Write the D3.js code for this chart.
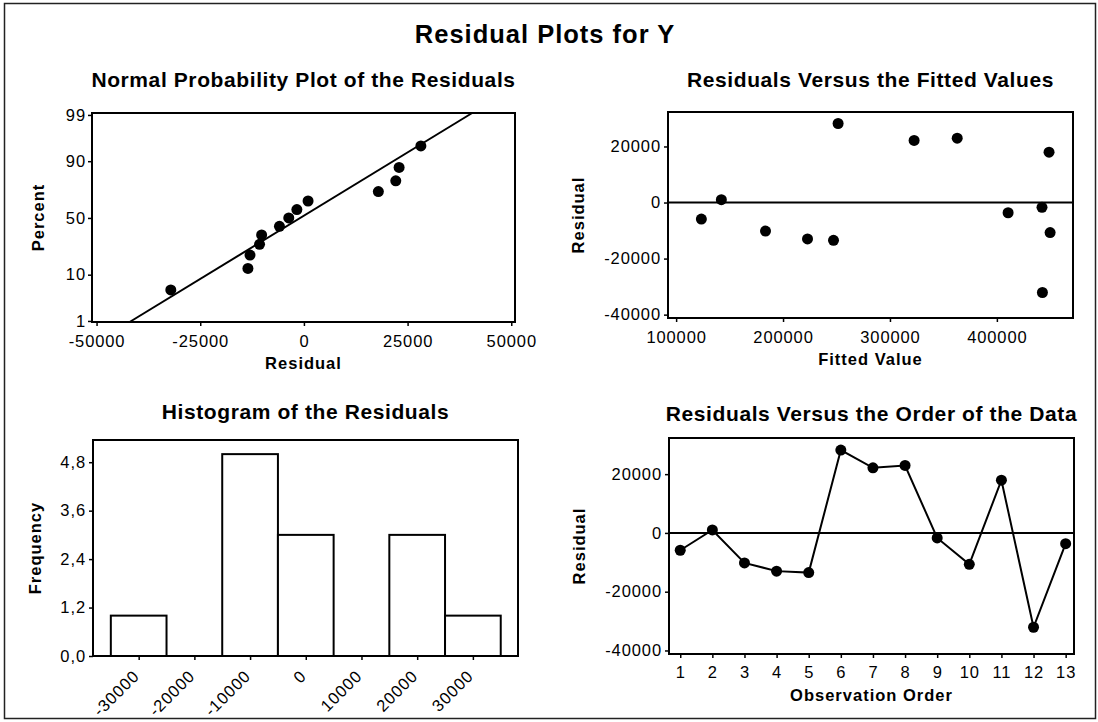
<!DOCTYPE html>
<html>
<head>
<meta charset="utf-8">
<script src="https://cdn.jsdelivr.net/npm/d3@7"></script>
<style>
  html, body { margin: 0; padding: 0; background: #fff; }
  svg { display: block; font-family: "Liberation Sans", Arial, sans-serif; }
</style>
</head>
<body>
<svg id="chart" width="1098" height="722"></svg>
<script>
// ---------------- data ----------------
const observationOrder = [1, 2, 3, 4, 5, 6, 7, 8, 9, 10, 11, 12, 13];
const residuals = [-5900, 1000, -10200, -13000, -13500, 28200, 22150, 22950, -1700, -10700, 17950, -32100, -3650];
const fittedValues = [123600, 142300, 183600, 222900, 247200, 251500, 322600, 362900, 442200, 449800, 448800, 442600, 410500];
// plotting percents of the ordered residuals (normal probability plot)
const normalPercents = [5.2, 12.7, 20.1, 27.6, 35.1, 42.5, 50, 57.5, 64.9, 72.4, 79.9, 87.3, 94.8];
// fitted reference line of the probability plot
const fitLineMean = -900;
const fitLineSd = 17500;
// histogram
const histBinCenters = [-30000, -20000, -10000, 0, 10000, 20000, 30000];
const histCounts = [1, 0, 5, 3, 0, 3, 1];
const histBinWidth = 10000;
// tick labels
const percentTicks = [1, 10, 50, 90, 99];
const npResidualTicks = [-50000, -25000, 0, 25000, 50000];
const residualTicks = [-40000, -20000, 0, 20000];
const fittedTicks = [100000, 200000, 300000, 400000];
const freqTicks = [0, 1.2, 2.4, 3.6, 4.8];

const mainTitle = "Residual Plots for Y";
const panelTitles = ["Normal Probability Plot of the Residuals", "Residuals Versus the Fitted Values",
                     "Histogram of the Residuals", "Residuals Versus the Order of the Data"];

// ---------------- helpers ----------------
function probit(p) { // inverse standard normal CDF (Acklam)
  const a = [-3.969683028665376e+01, 2.209460984245205e+02, -2.759285104469687e+02, 1.383577518672690e+02, -3.066479806614716e+01, 2.506628277459239e+00];
  const b = [-5.447609879822406e+01, 1.615858368580409e+02, -1.556989798598866e+02, 6.680131188771972e+01, -1.328068155288572e+01];
  const c = [-7.784894002430293e-03, -3.223964580411365e-01, -2.400758277161838e+00, -2.549732539343734e+00, 4.374664141464968e+00, 2.938163982698783e+00];
  const d = [7.784695709041462e-03, 3.224671290700398e-01, 2.445134137142996e+00, 3.754408661907416e+00];
  const pl = 0.02425, ph = 1 - pl;
  let q, r;
  if (p < pl) { q = Math.sqrt(-2 * Math.log(p));
    return (((((c[0]*q+c[1])*q+c[2])*q+c[3])*q+c[4])*q+c[5]) / ((((d[0]*q+d[1])*q+d[2])*q+d[3])*q+1); }
  if (p <= ph) { q = p - 0.5; r = q * q;
    return (((((a[0]*r+a[1])*r+a[2])*r+a[3])*r+a[4])*r+a[5])*q / (((((b[0]*r+b[1])*r+b[2])*r+b[3])*r+b[4])*r+1); }
  q = Math.sqrt(-2 * Math.log(1 - p));
  return -(((((c[0]*q+c[1])*q+c[2])*q+c[3])*q+c[4])*q+c[5]) / ((((d[0]*q+d[1])*q+d[2])*q+d[3])*q+1);
}
const fmtInt = d => String(Math.round(d)); // plain hyphen-minus like the reference

const svg = d3.select("#chart");
const INK = "#000";
const TICK_FONT = "16.5px", LS = "0.9px";

svg.append("rect").attr("x", 4.5).attr("y", 3.5).attr("width", 1091).attr("height", 715)
  .attr("fill", "none").attr("stroke", "#222").attr("stroke-width", 1.5);

svg.append("text").attr("x", 545).attr("y", 43).attr("text-anchor", "middle")
  .attr("font-size", "25.5px").attr("font-weight", "bold").attr("letter-spacing", "1px")
  .attr("fill", INK).text(mainTitle);

function styleAxis(g) {
  g.select(".domain").remove();
  g.selectAll(".tick line").attr("stroke", INK).attr("stroke-width", 1.5);
  g.selectAll(".tick text").attr("fill", INK).attr("font-size", TICK_FONT)
    .attr("letter-spacing", LS).attr("font-family", "Liberation Sans, Arial, sans-serif");
}

function makePanel(box, title, titleY, xLabel, xLabelY, yLabel, yLabelX) {
  const g = svg.append("g");
  const cx = (box.x0 + box.x1) / 2, cy = (box.y0 + box.y1) / 2;
  g.append("text").attr("x", cx).attr("y", titleY).attr("text-anchor", "middle")
    .attr("font-size", "21px").attr("font-weight", "bold").attr("letter-spacing", "0.6px")
    .attr("fill", INK).text(title);
  if (xLabel) g.append("text").attr("x", cx).attr("y", xLabelY).attr("text-anchor", "middle")
    .attr("font-size", "16.5px").attr("font-weight", "bold").attr("letter-spacing", "1px")
    .attr("fill", INK).text(xLabel);
  g.append("text").attr("transform", `translate(${yLabelX},${cy}) rotate(-90)`)
    .attr("text-anchor", "middle").attr("font-size", "16.5px").attr("font-weight", "bold")
    .attr("letter-spacing", "1px").attr("fill", INK).text(yLabel);
  return g;
}
function frame(g, box) {
  g.append("rect").attr("x", box.x0).attr("y", box.y0).attr("width", box.x1 - box.x0)
    .attr("height", box.y1 - box.y0).attr("fill", "none").attr("stroke", INK).attr("stroke-width", 2);
}

// ---------------- Panel 1: normal probability plot ----------------
{
  const box = {x0: 92, x1: 515, y0: 113, y1: 322};
  const g = makePanel(box, panelTitles[0], 87, "Residual", 369, "Percent", 44);
  const x = d3.scaleLinear().domain([-51100, 50900]).range([box.x0, box.x1]);
  const y = d3.scaleLinear().domain([-2.35, 2.37]).range([box.y1, box.y0]);
  g.append("g").attr("transform", `translate(0,${box.y1})`)
    .call(d3.axisBottom(x).tickValues(npResidualTicks).tickSize(4).tickPadding(9.5).tickSizeOuter(0).tickFormat(fmtInt))
    .call(styleAxis);
  g.append("g").attr("transform", `translate(${box.x0},0)`)
    .call(d3.axisLeft(y).tickValues(percentTicks.map(p => probit(p / 100))).tickSize(4).tickPadding(2)
      .tickFormat((d, i) => percentTicks[i]))
    .call(styleAxis);
  const zEnds = y.domain();
  g.append("path").datum(zEnds)
    .attr("d", d3.line().x(z => x(fitLineMean + z * fitLineSd)).y(z => y(z)))
    .attr("stroke", INK).attr("stroke-width", 2).attr("fill", "none");
  const sorted = residuals.slice().sort((a, b) => a - b);
  g.selectAll("circle").data(sorted).join("circle")
    .attr("cx", d => x(d)).attr("cy", (d, i) => y(probit(normalPercents[i] / 100)))
    .attr("r", 5.5).attr("fill", INK);
  frame(g, box);
}

// ---------------- Panel 2: residuals vs fitted ----------------
{
  const box = {x0: 668, x1: 1073, y0: 112, y1: 318};
  const g = makePanel(box, panelTitles[1], 87, "Fitted Value", 365, "Residual", 584);
  const x = d3.scaleLinear().domain([92400, 471200]).range([box.x0, box.x1]);
  const y = d3.scaleLinear().domain([-41200, 32300]).range([box.y1, box.y0]);
  g.append("g").attr("transform", `translate(0,${box.y1})`)
    .call(d3.axisBottom(x).tickValues(fittedTicks).tickSize(4).tickPadding(9.5).tickFormat(fmtInt))
    .call(styleAxis);
  g.append("g").attr("transform", `translate(${box.x0},0)`)
    .call(d3.axisLeft(y).tickValues(residualTicks).tickSize(4).tickPadding(3).tickFormat(fmtInt))
    .call(styleAxis);
  g.append("line").attr("x1", box.x0).attr("x2", box.x1).attr("y1", y(0)).attr("y2", y(0))
    .attr("stroke", INK).attr("stroke-width", 2);
  g.selectAll("circle").data(residuals).join("circle")
    .attr("cx", (d, i) => x(fittedValues[i])).attr("cy", d => y(d)).attr("r", 5.5).attr("fill", INK);
  frame(g, box);
}

// ---------------- Panel 3: histogram ----------------
{
  const box = {x0: 93, x1: 518, y0: 440, y1: 656};
  const g = makePanel(box, panelTitles[2], 419, null, 0, "Frequency", 41);
  const x = d3.scaleLinear().domain([-38200, 38100]).range([box.x0, box.x1]);
  const y = d3.scaleLinear().domain([0, 5.35]).range([box.y1, box.y0]);
  const bins = histCounts.map((c, i) => ({center: histBinCenters[i], count: c})).filter(b => b.count > 0);
  g.selectAll("rect.bar").data(bins).join("rect").attr("class", "bar")
    .attr("x", b => x(b.center - histBinWidth / 2))
    .attr("width", b => x(b.center + histBinWidth / 2) - x(b.center - histBinWidth / 2))
    .attr("y", b => y(b.count)).attr("height", b => y(0) - y(b.count))
    .attr("fill", "#fff").attr("stroke", INK).attr("stroke-width", 2);
  const ax = g.append("g").attr("transform", `translate(0,${box.y1})`)
    .call(d3.axisBottom(x).tickValues(histBinCenters).tickSize(4).tickFormat(fmtInt))
    .call(styleAxis);
  ax.selectAll(".tick text").attr("x", 0).attr("y", 0).attr("dy", "0.35em")
    .attr("text-anchor", "end").attr("transform", "translate(-3,17) rotate(-45)");
  g.append("g").attr("transform", `translate(${box.x0},0)`)
    .call(d3.axisLeft(y).tickValues(freqTicks).tickSize(4).tickPadding(3)
      .tickFormat(d => d.toFixed(1).replace(".", ",")))
    .call(styleAxis);
  frame(g, box);
}

// ---------------- Panel 4: residuals vs order ----------------
{
  const box = {x0: 669, x1: 1074, y0: 438, y1: 654};
  const g = makePanel(box, panelTitles[3], 421, "Observation Order", 701, "Residual", 585);
  const x = d3.scaleLinear().domain([0.65, 13.26]).range([box.x0, box.x1]);
  const y = d3.scaleLinear().domain([-41200, 32300]).range([box.y1, box.y0]);
  g.append("g").attr("transform", `translate(0,${box.y1})`)
    .call(d3.axisBottom(x).tickValues(observationOrder).tickSize(4).tickPadding(8).tickFormat(fmtInt))
    .call(styleAxis);
  g.append("g").attr("transform", `translate(${box.x0},0)`)
    .call(d3.axisLeft(y).tickValues(residualTicks).tickSize(4).tickPadding(3).tickFormat(fmtInt))
    .call(styleAxis);
  g.append("line").attr("x1", box.x0).attr("x2", box.x1).attr("y1", y(0)).attr("y2", y(0))
    .attr("stroke", INK).attr("stroke-width", 2);
  g.append("path").datum(residuals)
    .attr("d", d3.line().x((d, i) => x(observationOrder[i])).y(d => y(d)))
    .attr("fill", "none").attr("stroke", INK).attr("stroke-width", 2);
  g.selectAll("circle").data(residuals).join("circle")
    .attr("cx", (d, i) => x(observationOrder[i])).attr("cy", d => y(d)).attr("r", 5.5).attr("fill", INK);
  frame(g, box);
}
</script>
</body>
</html>
